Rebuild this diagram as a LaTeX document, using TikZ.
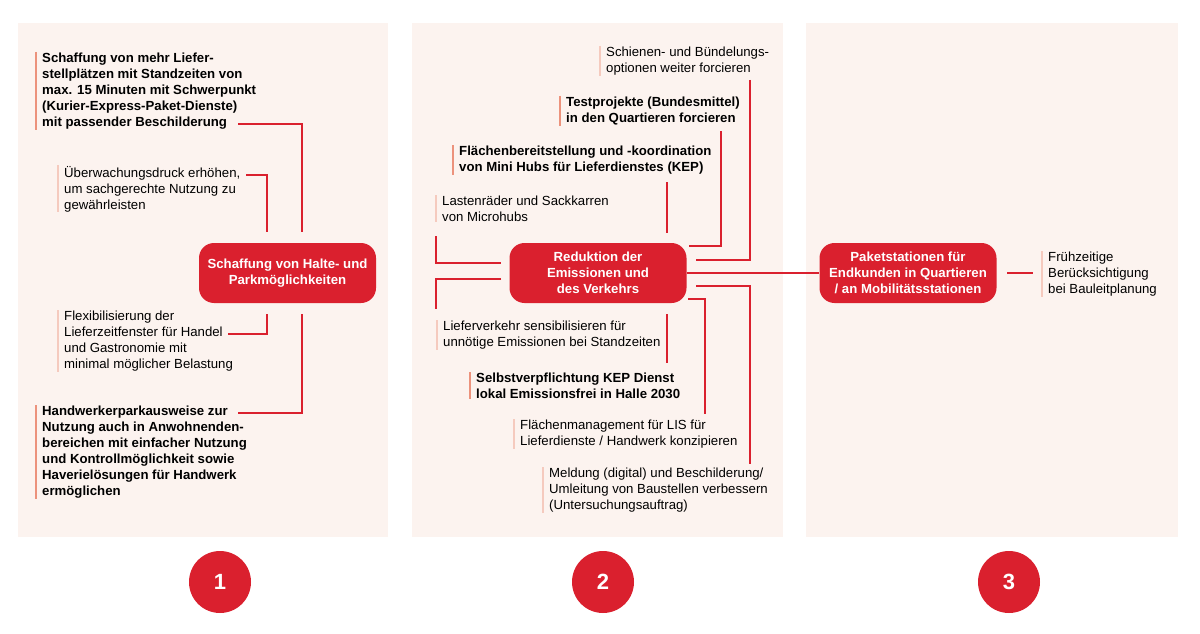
\documentclass[tikz,border=0pt]{standalone}
\usepackage{fontspec}
\setmainfont{Liberation Sans}
\definecolor{myred}{RGB}{218,32,46}
\definecolor{panelbg}{RGB}{252,243,239}
\definecolor{bardark}{RGB}{236,146,124}
\definecolor{barlight}{RGB}{245,202,190}
\tikzset{
  panel/.style={fill=panelbg, draw=none},
  hub/.style={fill=myred, rounded corners=15pt, minimum width=177pt, minimum height=60pt,
    text=white, font=\fontsize{13.2}{16}\selectfont\bfseries, align=center, inner sep=0pt},
  item/.style={anchor=north west, inner sep=0pt, align=left, text=black,
    font=\fontsize{13.2}{16}\selectfont},
  bolditem/.style={item, font=\fontsize{13.2}{16}\selectfont\bfseries},
  barD/.style={draw=bardark, line width=2.8pt},
  barL/.style={draw=barlight, line width=2.8pt},
  conn/.style={draw=myred, line width=2.9pt},
  num/.style={circle, fill=myred, minimum size=62pt, inner sep=0pt, text=white,
    font=\fontsize{22}{22}\selectfont\bfseries}
}
\begin{document}
\begin{tikzpicture}[x=1pt,y=-1pt]
\useasboundingbox (0,0) rectangle (1200,634);
\fill[white] (0,0) rectangle (1200,634);
% panels
\path[panel] (18,23) rectangle (388,537);
\path[panel] (412,23) rectangle (783,537);
\path[panel] (806,23) rectangle (1178,537);

% hubs
\node[hub] (h1) at (287.5,273) {Schaffung von Halte- und\\Parkmöglichkeiten};
\node[hub] (h2) at (598,273) {Reduktion der\\Emissionen und\\des Verkehrs};
\node[hub] (h3) at (908,273) {Paketstationen für\\Endkunden in Quartieren\\/ an Mobilitätsstationen};

% panel 1 items
\node[bolditem] (t1a) at (42,53) {Schaffung von mehr Liefer-\\stellplätzen mit Standzeiten von\\max. 15 Minuten mit Schwerpunkt\\(Kurier-Express-Paket-Dienste)\\mit passender Beschilderung};
\node[item] (t1b) at (64,166) {Überwachungsdruck erhöhen,\\um sachgerechte Nutzung zu\\gewährleisten};
\node[item] (t1c) at (64,311) {Flexibilisierung der\\Lieferzeitfenster für Handel\\und Gastronomie mit\\minimal möglicher Belastung};
\node[bolditem] (t1d) at (42,406) {Handwerkerparkausweise zur\\Nutzung auch in Anwohnenden-\\bereichen mit einfacher Nutzung\\und Kontrollmöglichkeit sowie\\Haverielösungen für Handwerk\\ermöglichen};

% panel 2 items
\node[item] (t2a) at (606,47) {Schienen- und Bündelungs-\\optionen weiter forcieren};
\node[bolditem] (t2b) at (566,97) {Testprojekte (Bundesmittel)\\in den Quartieren forcieren};
\node[bolditem] (t2c) at (459,146) {Flächenbereitstellung und -koordination\\von Mini Hubs für Lieferdienstes (KEP)};
\node[item] (t2d) at (442,196) {Lastenräder und Sackkarren\\von Microhubs};
\node[item] (t2e) at (443,321) {Lieferverkehr sensibilisieren für\\unnötige Emissionen bei Standzeiten};
\node[bolditem] (t2f) at (476,373) {Selbstverpflichtung KEP Dienst\\lokal Emissionsfrei in Halle 2030};
\node[item] (t2g) at (520,420) {Flächenmanagement für LIS für\\Lieferdienste / Handwerk konzipieren};
\node[item] (t2h) at (549,468) {Meldung (digital) und Beschilderung/\\Umleitung von Baustellen verbessern\\(Untersuchungsauftrag)};

% panel 3 item
\node[item] (t3a) at (1048,252) {Frühzeitige\\Berücksichtigung\\bei Bauleitplanung};

% bars
\foreach \n in {t1a,t1d,t2b,t2c,t2f}
  \draw[barD] ([xshift=-6pt,yshift=1pt]\n.north west) -- ([xshift=-6pt]\n.south west);
\foreach \n in {t1b,t1c,t2a,t2d,t2e,t2g,t2h,t3a}
  \draw[barL] ([xshift=-6pt,yshift=1pt]\n.north west) -- ([xshift=-6pt]\n.south west);

% connector end points
\coordinate (a1) at (238,124);  \coordinate (a2) at (302,232);
\coordinate (b1) at (246,175);  \coordinate (b2) at (267,232);
\coordinate (c1) at (267,314);  \coordinate (c2) at (228,334);
\coordinate (d1) at (302,314);  \coordinate (d2) at (238,413);

\coordinate (e1) at (750,80);   \coordinate (e2) at (696,260);
\coordinate (f1) at (721,131);  \coordinate (f2) at (689,246);
\coordinate (g1) at (667,182);  \coordinate (g2) at (667,233);
\coordinate (k1) at (436,236);  \coordinate (k2) at (501,263);
\coordinate (l1) at (501,279);  \coordinate (l2) at (436,309);
\coordinate (m1) at (667,314);  \coordinate (m2) at (667,363);
\coordinate (n1) at (688,299);  \coordinate (n2) at (705,414);
\coordinate (o1) at (696,286);  \coordinate (o2) at (750,464);
\coordinate (p1) at (1007,273); \coordinate (p2) at (1033,273);

% connectors
\draw[conn] (a1) -| (a2);
\draw[conn] (b1) -| (b2);
\draw[conn] (c1) |- (c2);
\draw[conn] (d1) |- (d2);
\draw[conn] (e1) |- (e2);
\draw[conn] (f1) |- (f2);
\draw[conn] (g1) -- (g2);
\draw[conn] (k1) |- (k2);
\draw[conn] (l1) -| (l2);
\draw[conn] (m1) -- (m2);
\draw[conn] (n1) -| (n2);
\draw[conn] (o1) -| (o2);
\draw[conn] (h2.east) -- (h3.west);
\draw[conn] (p1) -- (p2);

% numbers
\node[num] (n1c) at (220,582) {1};
\node[num] (n2c) at (603,582) {2};
\node[num] (n3c) at (1009,582) {3};
\end{tikzpicture}
\end{document}
